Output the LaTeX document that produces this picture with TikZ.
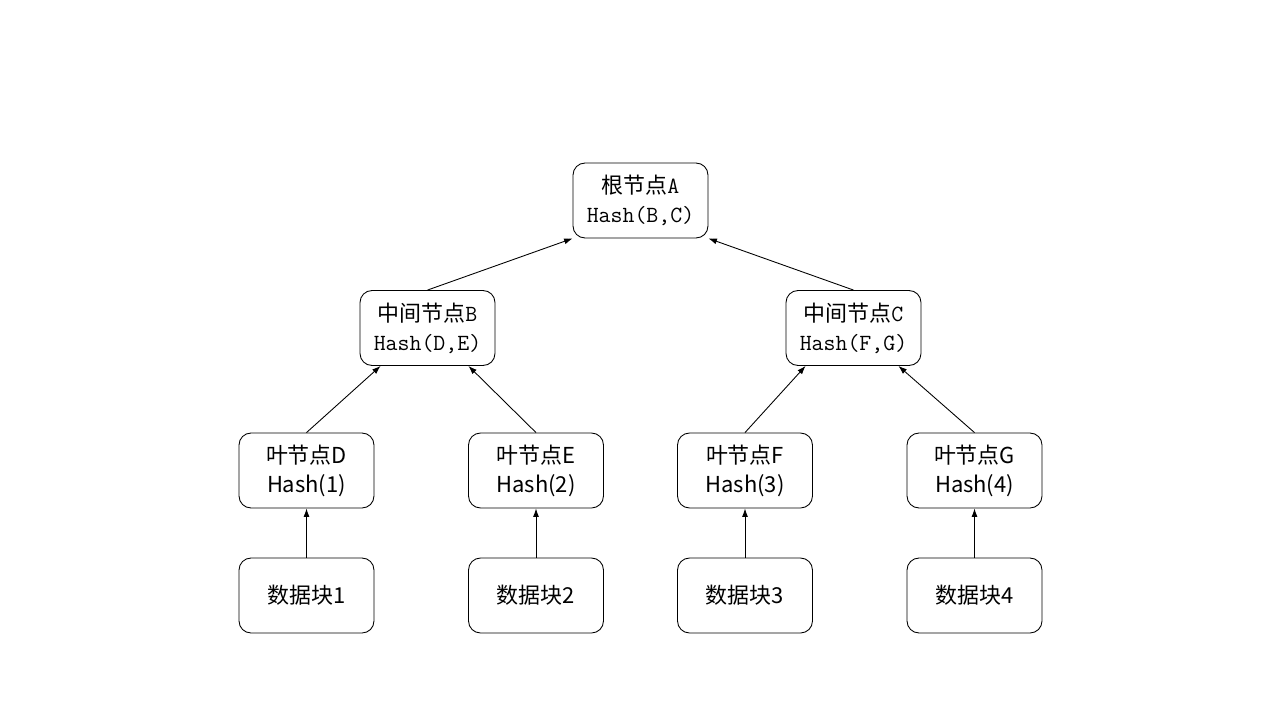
\documentclass[tikz,border=0pt]{standalone}
\usepackage{fontspec}
\newfontfamily\cjk{Noto Sans CJK SC}
\usetikzlibrary{positioning,arrows.meta,calc}
\newcommand{\hashtt}[1]{{\ttfamily\fontsize{13.2}{16.5}\selectfont #1}}

\begin{document}
\begin{tikzpicture}[x=0.02cm,y=-0.02cm]
\tikzstyle{box}=[draw, line width=0.5pt, rounded corners=0.24cm, minimum width=2.7cm, minimum height=1.5cm, align=center, inner sep=0pt, font=\cjk\fontsize{12.5}{16.5}\selectfont]
\tikzstyle{link}=[line width=0.5pt, -{Latex[length=1.7mm,width=1.2mm]}]
\useasboundingbox (0,0) rectangle (1280,720);
% root and middle level
\node[box] (A) at (640.5,200.5) {根节点\hashtt{A}\\\hashtt{Hash(B,C)}};
\node[box] (B) at (427.5,328) {中间节点\hashtt{B}\\\hashtt{Hash(D,E)}};
\node[box] (C) at (853.5,328) {中间节点\hashtt{C}\\\hashtt{Hash(F,G)}};
% leaves
\node[box] (D) at (306.5,470.5) {叶节点D\\Hash(1)};
\node[box] (E) at (536,470.5) {叶节点E\\Hash(2)};
\node[box] (F) at (745,470.5) {叶节点F\\Hash(3)};
\node[box] (G) at (974.5,470.5) {叶节点G\\Hash(4)};
% data blocks
\node[box] (d1) at (306.5,595.5) {数据块1};
\node[box] (d2) at (536,595.5) {数据块2};
\node[box] (d3) at (745,595.5) {数据块3};
\node[box] (d4) at (974.5,595.5) {数据块4};
\draw[link] (B.north) -- (A.south west);
\draw[link] (C.north) -- (A.south east);
\draw[link] (D.north) -- ($(B.south west)+(21,0)$);
\draw[link] (E.north) -- ($(B.south east)+(-27,0)$);
\draw[link] (F.north) -- ($(C.south west)+(20,0)$);
\draw[link] (G.north) -- ($(C.south east)+(-23,0)$);
\draw[link] (d1) -- (D);
\draw[link] (d2) -- (E);
\draw[link] (d3) -- (F);
\draw[link] (d4) -- (G);
\end{tikzpicture}
\end{document}
